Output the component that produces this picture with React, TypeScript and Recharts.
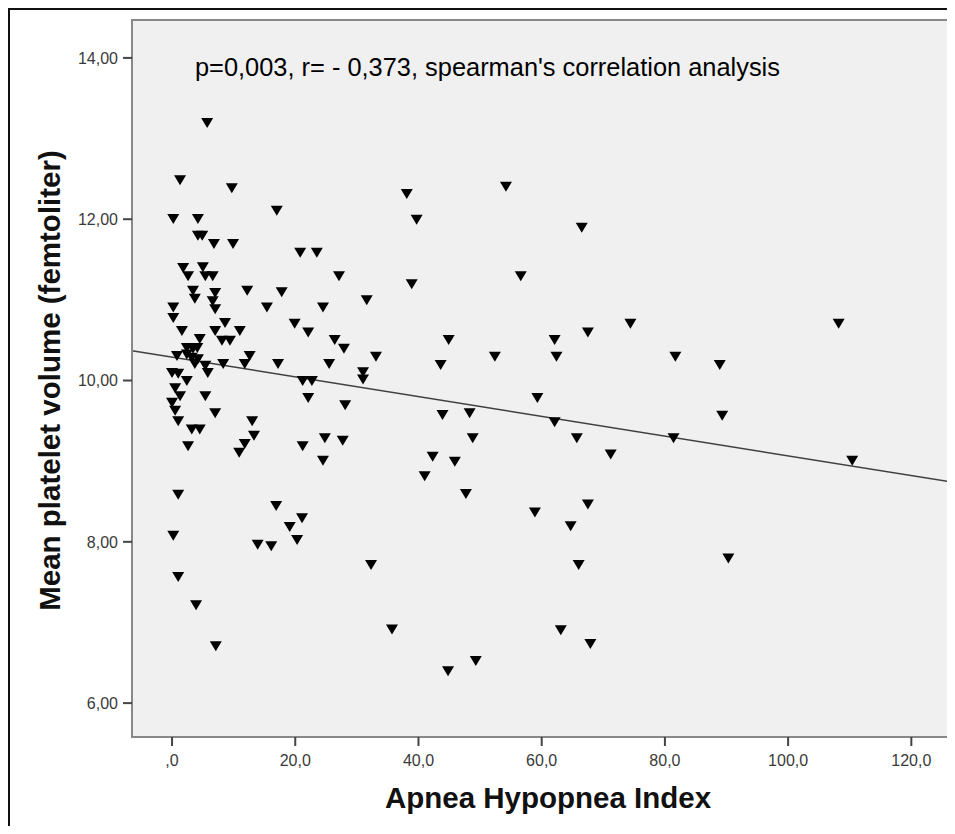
import React from 'react';
import { ScatterChart, Scatter, XAxis, YAxis, CartesianGrid, ReferenceLine, ReferenceArea } from 'recharts';

// Apnea Hypopnea Index (x) values
const ahi = [
  5.7, 1.3, 9.7, 17.0, 0.2, 4.2, 4.2, 4.9, 6.8, 9.9,
  20.8, 23.5, 1.8, 2.6, 5.0, 5.4, 6.6, 3.4, 3.7, 7.0,
  6.6, 7.0, 12.2, 17.8, 0.2, 0.2, 15.4, 24.5, 8.6, 1.6,
  7.0, 11.0, 8.1, 9.4, 19.9, 22.1, 4.5, 2.4, 3.4, 4.1,
  0.8, 2.4, 3.2, 4.2, 3.7, 5.4, 5.8, 8.3, 12.6, 11.8,
  17.2, 0.0, 1.0, 2.4, 0.5, 1.3, 5.4, 0.0, 0.5, 1.0,
  3.2, 4.5, 2.6, 7.0, 13.0, 13.3, 11.8, 10.9, 21.2, 22.7,
  22.1, 21.2, 24.8, 24.5, 1.0, 0.2, 1.0, 3.9, 7.1, 16.9,
  19.1, 21.1, 20.3, 13.9, 16.1, 25.5, 27.1, 38.9, 56.6, 31.6,
  38.1, 39.7, 54.2, 66.5, 26.4, 27.9, 33.1, 44.9, 52.4, 43.6,
  62.1, 62.4, 67.5, 31.0, 31.0, 28.1, 43.9, 48.3, 59.3, 62.1,
  65.7, 27.7, 48.8, 71.2, 42.3, 45.9, 41.0, 47.7, 58.9, 67.5,
  64.7, 32.3, 66.0, 35.7, 63.1, 67.9, 49.3, 44.8, 74.4, 108.2,
  81.7, 88.9, 89.3, 81.4, 110.4, 90.3,
];

// Mean platelet volume (y) values, same order
const mpv = [
  13.20, 12.49, 12.39, 12.11, 12.01, 12.01, 11.80, 11.80, 11.70, 11.70,
  11.59, 11.59, 11.40, 11.30, 11.41, 11.30, 11.30, 11.12, 11.02, 11.09,
  10.99, 10.89, 11.12, 11.10, 10.91, 10.78, 10.91, 10.91, 10.72, 10.62,
  10.62, 10.62, 10.50, 10.50, 10.71, 10.60, 10.52, 10.41, 10.40, 10.41,
  10.31, 10.33, 10.29, 10.27, 10.21, 10.19, 10.10, 10.21, 10.31, 10.21,
  10.21, 10.10, 10.09, 10.00, 9.91, 9.81, 9.81, 9.73, 9.63, 9.50,
  9.40, 9.40, 9.19, 9.60, 9.50, 9.32, 9.22, 9.11, 10.00, 10.00,
  9.79, 9.19, 9.29, 9.01, 8.59, 8.08, 7.57, 7.22, 6.71, 8.45,
  8.19, 8.30, 8.03, 7.97, 7.95, 10.21, 11.30, 11.20, 11.30, 11.00,
  12.32, 12.00, 12.41, 11.90, 10.51, 10.40, 10.30, 10.51, 10.30, 10.20,
  10.51, 10.30, 10.60, 10.11, 10.02, 9.70, 9.58, 9.60, 9.79, 9.49,
  9.29, 9.26, 9.29, 9.09, 9.06, 9.00, 8.82, 8.60, 8.37, 8.47,
  8.20, 7.72, 7.72, 6.92, 6.91, 6.74, 6.53, 6.40, 10.71, 10.71,
  10.30, 10.20, 9.57, 9.29, 9.01, 7.80,
];

const xTicks = [0, 20, 40, 60, 80, 100, 120];
const yTicks = [6, 8, 10, 12, 14];
const xDomain = [-6.5, 126.6];
const yDomain = [5.58, 14.47];
const fitLine = [
  { x: -6.5, y: 10.37 },
  { x: 126.6, y: 8.74 },
];
const titleText = "p=0,003, r= - 0,373, spearman's correlation analysis";
const xTitle = 'Apnea Hypopnea Index';
const yTitle = 'Mean platelet volume (femtoliter)';

const data = ahi.map((x, i) => ({ x, y: mpv[i] }));

const FONT = '"Liberation Sans", Arial, sans-serif';

const Tri = (p: any) => {
  const { cx, cy } = p;
  if (cx == null || cy == null) return null;
  return <path d={`M${cx - 6},${cy - 4.5}L${cx + 6},${cy - 4.5}L${cx},${cy + 5.5}Z`} fill="#000" />;
};

const YTitle = (props: any) => {
  const vb = props.viewBox || {};
  const x = vb.x + 52;
  const y = vb.y + vb.height / 2 + 2;
  return (
    <text x={x} y={y} transform={`rotate(-90 ${x} ${y})`} textAnchor="middle" fontFamily={FONT} fontWeight="bold" fontSize={29.5} fill="#111">
      {yTitle}
    </text>
  );
};

const XTitle = (props: any) => {
  const vb = props.viewBox || {};
  const x = vb.x + vb.width / 2 + 6;
  const y = vb.y + 71;
  return (
    <text x={x} y={y} textAnchor="middle" fontFamily={FONT} fontWeight="bold" fontSize={29.5} fill="#111">
      {xTitle}
    </text>
  );
};

const fmtX = (v: number) => (v === 0 ? ',0' : v.toFixed(1).replace('.', ','));
const fmtY = (v: number) => v.toFixed(2).replace('.', ',');

export default function App() {
  return (
    <div style={{ position: 'relative', width: 947, height: 818, overflow: 'hidden' }}>
      <ScatterChart width={947} height={818} margin={{ top: 12, right: 3, left: 0, bottom: 0 }}>
        <CartesianGrid horizontal={false} vertical={false} fill="#f0f0f0" />
        <XAxis
          dataKey="x"
          type="number"
          domain={xDomain}
          allowDataOverflow
          ticks={xTicks}
          tickFormatter={fmtX}
          height={89}
          tickSize={9}
          tickMargin={9}
          axisLine={{ stroke: '#888', strokeWidth: 2 }}
          tickLine={{ stroke: '#444', strokeWidth: 2 }}
          tick={{ fill: '#3a3a3a', fontSize: 16, fontFamily: FONT }}
          label={<XTitle />}
        />
        <YAxis
          dataKey="y"
          type="number"
          domain={yDomain}
          allowDataOverflow
          ticks={yTicks}
          tickFormatter={fmtY}
          width={124}
          tickSize={9}
          tickMargin={5}
          axisLine={{ stroke: '#888', strokeWidth: 2 }}
          tickLine={{ stroke: '#444', strokeWidth: 2 }}
          tick={{ fill: '#3a3a3a', fontSize: 16, fontFamily: FONT }}
          label={<YTitle />}
        />
        <ReferenceArea x1={xDomain[0]} x2={xDomain[1]} y1={yDomain[0]} y2={yDomain[1]} fill="none" fillOpacity={0} stroke="#888" strokeWidth={2} />
        <ReferenceLine segment={fitLine} stroke="#404040" strokeWidth={1.5} />
        <Scatter data={data} shape={Tri} isAnimationActive={false} />
      </ScatterChart>
      <svg width={947} height={100} style={{ position: 'absolute', left: 0, top: 0, pointerEvents: 'none' }}>
        <text x={187} y={68} fontFamily={FONT} fontSize={25.4} fill="#000">{titleText}</text>
      </svg>
      <div style={{ position: 'absolute', left: 0, top: 0, width: 2, height: 818, background: '#111', pointerEvents: 'none' }} />
      <div style={{ position: 'absolute', left: 0, top: 0, width: 947, height: 2, background: '#111', pointerEvents: 'none' }} />
    </div>
  );
}
